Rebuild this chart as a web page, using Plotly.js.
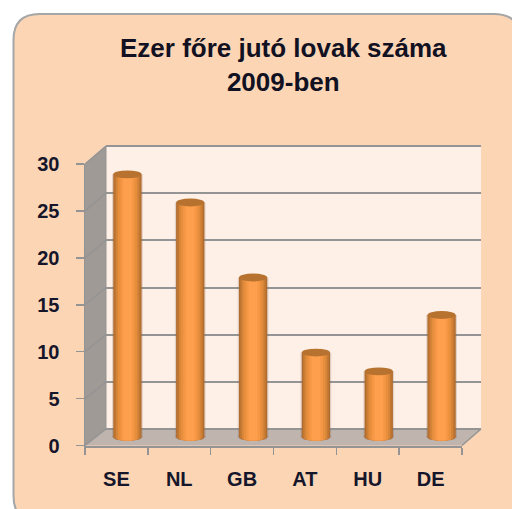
<!DOCTYPE html>
<html><head><meta charset="utf-8">
<script src="https://cdn.plot.ly/plotly-3.0.1.min.js"></script>
<style>html,body{margin:0;padding:0;background:#fff}#c{width:512px;height:509px}</style>
</head><body><div id="c"></div>
<script>
const categories = ['SE','NL','GB','AT','HU','DE'];
const values = [28,25,17,9,7,13];
const yTicks = [0,5,10,15,20,25,30];
const titleText = 'Ezer főre jutó lovak száma<br>2009-ben';

const W=512,H=509;
const px=x=>x/W, py=y=>1-y/H;
const front={l:85,r:462,b:445.5,t:164};
const back={l:106,r:481,b:429,t:146};
const mid={l:96,r:473,b:437,unit:9.38,below:1};
const cap=0.42;
const bands=[
 {w:0.49,c:'rgba(130,100,80,0.22)'},
 {w:0.45,c:'#b06c2e'},
 {w:0.41,c:'#c27833'},
 {w:0.36,c:'#d68438'},
 {w:0.30,c:'#e88f3e'},
 {w:0.22,c:'#f59745'},
 {w:0.14,c:'#fd9f4c'}
];
const depth=b=>b.w>=bands[1].w?0:cap*Math.sqrt(1-Math.pow(b.w/bands[1].w,2));
const path=p=>'M'+p.map(a=>px(a[0])+','+py(a[1])).join('L')+'Z';
const shapes=[];
// panel
const pl=13.5,pt=14,pr=520,pb=522,rr=26;
shapes.push({type:'path',xref:'paper',yref:'paper',layer:'below',
 path:`M${px(pl)},${py(pt+rr)} Q${px(pl)},${py(pt)} ${px(pl+rr)},${py(pt)} L${px(pr-rr)},${py(pt)} Q${px(pr)},${py(pt)} ${px(pr)},${py(pt+rr)} L${px(pr)},${py(pb)} L${px(pl+rr)},${py(pb)} Q${px(pl)},${py(pb)} ${px(pl)},${py(pb-rr)} Z`,
 fillcolor:'#fcd5b5',line:{color:'#a6a6a6',width:2}});
// walls
shapes.push({type:'path',xref:'paper',yref:'paper',layer:'below',path:path([[back.l,back.t],[back.r,back.t],[back.r,back.b],[back.l,back.b]]),fillcolor:'#fef0e7',line:{width:0}});
shapes.push({type:'path',xref:'paper',yref:'paper',layer:'below',path:path([[front.l,front.t],[back.l,back.t],[back.l,back.b],[front.l,front.b]]),fillcolor:'#a09a96',line:{width:0}});
shapes.push({type:'path',xref:'paper',yref:'paper',layer:'below',path:path([[front.l,front.b],[back.l,back.b],[back.r,back.b],[front.r,front.b]]),fillcolor:'#bfb4ae',line:{width:0}});
const gridC='#949494';
yTicks.forEach(v=>{
 const f=front.b+(front.t-front.b)*v/30, b=back.b+(back.t-back.b)*v/30;
 shapes.push({type:'line',xref:'paper',yref:'paper',layer:'below',x0:px(front.l),y0:py(f),x1:px(back.l),y1:py(b),line:{color:gridC,width:1.5}});
});
[back.t,back.b].forEach(y=>shapes.push({type:'line',xref:'paper',yref:'paper',layer:'below',x0:px(back.l),y0:py(y),x1:px(back.r),y1:py(y),line:{color:gridC,width:2}}));
shapes.push({type:'line',xref:'paper',yref:'paper',layer:'below',x0:px(front.r),y0:py(front.b),x1:px(back.r),y1:py(back.b),line:{color:gridC,width:1.5}});
shapes.push({type:'line',xref:'paper',yref:'paper',layer:'below',x0:px(back.l),y0:py(back.t),x1:px(back.l),y1:py(back.b),line:{color:gridC,width:1}});
// cylinder ends, derived from values
values.forEach((v,i)=>{
 [0,1].forEach(k=>{const b=bands[k];
  shapes.push({type:'circle',xref:'x3',yref:'y3',layer:'between',x0:i-b.w/2,x1:i+b.w/2,y0:-cap,y1:cap,fillcolor:b.c,line:{width:0}});
 });
 shapes.push({type:'circle',xref:'x3',yref:'y3',layer:'above',x0:i-bands[1].w/2,x1:i+bands[1].w/2,y0:v-cap,y1:v+cap,fillcolor:'#b8722f',line:{width:0}});
});

const hidden=(ax,y)=>({type:'scatter',mode:'none',x:categories,y:values,xaxis:ax,yaxis:y,hoverinfo:'skip',showlegend:false});
const traces=[hidden('x','y'),hidden('x2','y2')];
bands.forEach(b=>{const d=depth(b);traces.push({type:'bar',x:categories,y:values.map(v=>v+d),base:values.map(()=>-d),xaxis:'x3',yaxis:'y3',width:b.w,marker:{color:b.c,line:{width:0}},hoverinfo:'skip',showlegend:false});});

const font={family:'"Liberation Sans",Arial,sans-serif',size:20,color:'#16162a',weight:700};
const layout={
 width:W,height:H,margin:{l:0,r:0,t:0,b:0},showlegend:false,barmode:'overlay',
 paper_bgcolor:'#ffffff',plot_bgcolor:'rgba(0,0,0,0)',
 shapes,
 annotations:[{xref:'paper',yref:'paper',x:px(283.5),y:py(65),text:titleText,showarrow:false,align:'center',xanchor:'center',yanchor:'middle',
   font:{family:'"Liberation Sans",Arial,sans-serif',size:26,color:'#111122',weight:700}}],
 xaxis:{domain:[px(front.l),px(front.r)],anchor:'y',type:'category',categoryorder:'array',categoryarray:categories,range:[-0.5,5.5],
   tickson:'boundaries',ticks:'outside',ticklen:7,tickwidth:1.5,tickcolor:gridC,showline:true,linecolor:gridC,linewidth:2,showgrid:false,zeroline:false,tickfont:font,ticklabelstandoff:14},
 yaxis:{domain:[py(front.b),py(front.t)],anchor:'x',range:[0,30],tickvals:yTicks,ticks:'outside',ticklen:8,tickwidth:1.5,tickcolor:gridC,showline:true,linecolor:gridC,linewidth:1.5,showgrid:false,zeroline:false,tickfont:font,ticklabelstandoff:12},
 xaxis2:{domain:[px(back.l),px(back.r)],anchor:'y2',type:'category',categoryorder:'array',categoryarray:categories,range:[-0.5,5.5],visible:false},
 yaxis2:{domain:[py(back.b),py(back.t)],anchor:'x2',range:[0,30],tickvals:yTicks,showticklabels:false,ticks:'',showline:false,zeroline:false,showgrid:true,gridcolor:gridC,gridwidth:2},
 xaxis3:{domain:[px(mid.l),px(mid.r)],anchor:'y3',type:'category',categoryorder:'array',categoryarray:categories,range:[-0.5,5.5],visible:false},
 yaxis3:{domain:[py(mid.b+mid.unit*mid.below),py(mid.b-mid.unit*30)],anchor:'x3',range:[-mid.below,30],visible:false}
};
Plotly.newPlot('c',traces,layout,{displayModeBar:false,staticPlot:true});
</script></body></html>
